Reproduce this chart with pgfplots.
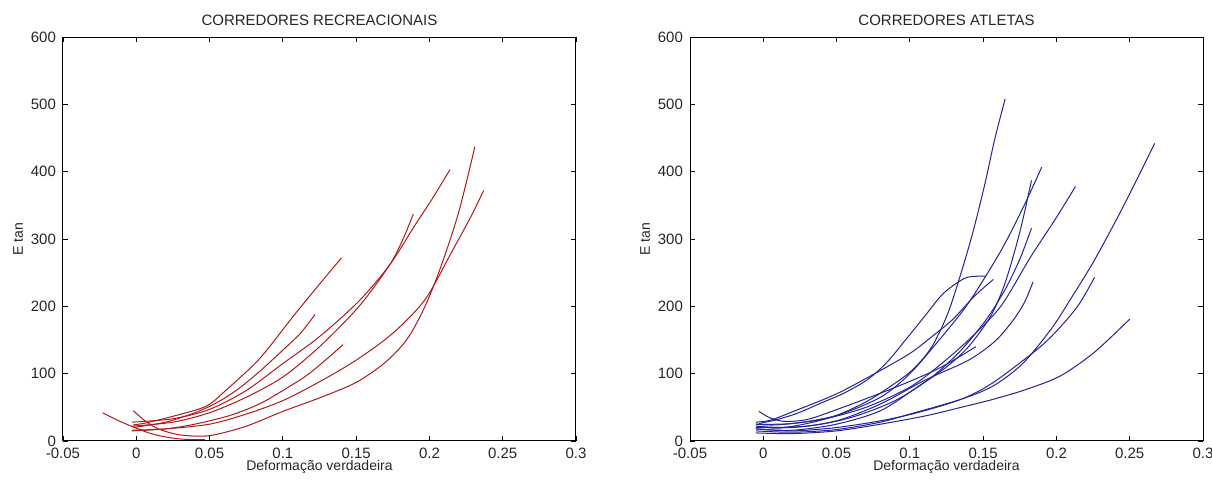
\documentclass[border=0pt]{standalone}
\usepackage{pgfplots}
\pgfplotsset{compat=1.18}
\usepackage{fontspec}
\setmainfont{Liberation Sans}

\definecolor{mred}{RGB}{180,25,25}
\definecolor{mblue}{RGB}{35,35,155}

\pgfplotsset{
  matlab/.style={
    scale only axis, width=256.5pt, height=202pt,
    xmin=-0.05, xmax=0.3, ymin=0, ymax=600,
    xtick={-0.05,0,0.05,0.1,0.15,0.2,0.25,0.3},
    xticklabels={-0.05,0,0.05,0.1,0.15,0.2,0.25,0.3},
    ytick={0,100,200,300,400,500,600},
    yticklabels={0,100,200,300,400,500,600},
    tick align=inside, major tick length=2.5pt,
    tick style={black, line width=0.4pt},
    axis line style={black, line width=0.5pt},
    ticklabel style={font=\fontsize{7.5}{8}\selectfont, text=black!85},
    title style={at={(axis description cs:0.5,1)}, anchor=base,
      font=\fontsize{7.5}{9}\selectfont, text=black!85},
    xlabel style={at={(axis description cs:0.5,0)}, anchor=base, yshift=-15pt,
      font=\fontsize{7}{8}\selectfont, text=black!85},
    ylabel style={at={(axis description cs:-0.0877,0.5)}, anchor=center,
      font=\fontsize{7}{8}\selectfont, text=black!85},
    xlabel={Deformação verdadeira},
    ylabel={E tan},
  },
  rline/.style={mred, line width=0.5pt, smooth, mark=none},
  bline/.style={mblue, line width=0.5pt, smooth, mark=none},
}

\begin{document}
\begin{tikzpicture}
\path[use as bounding box] (0,0) rectangle (606pt,240.5pt);

% recreacionais
\begin{axis}[matlab, at={(31.5pt,20pt)}, anchor=south west,
  title={CORREDORES RECREACIONAIS}]
\addplot[rline] coordinates {(-0.023,42) (-0.012,30) (0,19) (0.01,11) (0.02,6) (0.03,3) (0.04,2) (0.047,2)};
\addplot[rline] coordinates {(-0.002,45) (0.006,30) (0.015,18) (0.03,9) (0.05,8) (0.075,22) (0.1,44) (0.125,64) (0.15,87) (0.17,117) (0.185,152) (0.197,200) (0.208,260) (0.22,340) (0.231,437)};
\addplot[rline] coordinates {(-0.003,16) (0.02,18) (0.05,25) (0.075,40) (0.1,60) (0.125,88) (0.15,120) (0.175,160) (0.197,210) (0.215,280) (0.228,332) (0.237,372)};
\addplot[rline] coordinates {(-0.003,28) (0.025,33) (0.05,47) (0.075,75) (0.1,115) (0.125,155) (0.152,208) (0.173,262) (0.19,320) (0.202,360) (0.214,403)};
\addplot[rline] coordinates {(-0.003,22) (0.025,28) (0.05,42) (0.075,65) (0.1,95) (0.125,140) (0.152,200) (0.173,262) (0.182,300) (0.189,337)};
\addplot[rline] coordinates {(-0.002,24) (0.007,27) (0.029,39) (0.048,52) (0.061,75) (0.084,122) (0.107,185) (0.122,225) (0.14,272)};
\addplot[rline] coordinates {(-0.002,20) (0.02,28) (0.04,42) (0.055,57) (0.07,78) (0.085,105) (0.1,135) (0.112,160) (0.122,188)};
\addplot[rline] coordinates {(-0.003,15) (0.02,18) (0.04,25) (0.064,38) (0.084,55) (0.1,75) (0.116,97) (0.129,120) (0.141,143)};
\end{axis}

% atletas
\begin{axis}[matlab, at={(345pt,20pt)}, anchor=south west,
  title={CORREDORES ATLETAS}]
\addplot[bline] coordinates {(-0.004,22) (0.01,19) (0.03,26) (0.05,38) (0.07,58) (0.086,80) (0.102,106) (0.115,140) (0.126,190) (0.135,250) (0.143,310) (0.151,380) (0.158,449) (0.165,508)};
\addplot[bline] coordinates {(-0.005,25) (0.02,26) (0.05,38) (0.08,65) (0.1,100) (0.12,150) (0.14,205) (0.162,282) (0.178,350) (0.19,407)};
\addplot[bline] coordinates {(-0.005,18) (0.02,16) (0.05,25) (0.08,45) (0.105,80) (0.125,110) (0.14,140) (0.155,185) (0.165,235) (0.175,310) (0.183,387)};
\addplot[bline] coordinates {(-0.005,25) (0.01,24) (0.04,32) (0.07,50) (0.1,80) (0.12,112) (0.14,150) (0.162,200) (0.182,272) (0.2,332) (0.213,378)};
\addplot[bline] coordinates {(-0.005,20) (0.03,22) (0.06,35) (0.09,60) (0.115,95) (0.135,135) (0.152,180) (0.165,225) (0.175,270) (0.183,316)};
\addplot[bline] coordinates {(-0.005,15) (0.02,13) (0.05,17) (0.08,28) (0.1,40) (0.135,62) (0.157,82) (0.177,115) (0.197,168) (0.21,212) (0.225,265) (0.24,325) (0.253,380) (0.267,442)};
\addplot[bline] coordinates {(-0.005,22) (0.02,20) (0.05,30) (0.08,55) (0.11,90) (0.14,120) (0.158,148) (0.17,178) (0.178,205) (0.184,236)};
\addplot[bline] coordinates {(-0.005,18) (0.02,15) (0.05,20) (0.08,30) (0.105,42) (0.135,62) (0.157,87) (0.189,140) (0.205,175) (0.216,205) (0.226,243)};
\addplot[bline] coordinates {(-0.005,12) (0.02,11) (0.05,15) (0.08,25) (0.11,37) (0.135,50) (0.157,62) (0.18,77) (0.203,97) (0.226,132) (0.25,181)};
\addplot[bline] coordinates {(-0.003,44) (0.005,34) (0.015,29) (0.03,32) (0.048,45) (0.087,77) (0.119,107) (0.145,140)};
\addplot[bline] coordinates {(-0.005,28) (0.005,31) (0.023,46) (0.05,70) (0.076,100) (0.1,130) (0.115,155) (0.129,180) (0.144,215) (0.157,240)};
\addplot[bline] coordinates {(-0.003,26) (0.008,31) (0.023,41) (0.039,56) (0.055,71) (0.071,91) (0.084,116) (0.097,150) (0.11,185) (0.121,215) (0.129,230) (0.139,243) (0.152,245)};
\end{axis}
\end{tikzpicture}
\end{document}
